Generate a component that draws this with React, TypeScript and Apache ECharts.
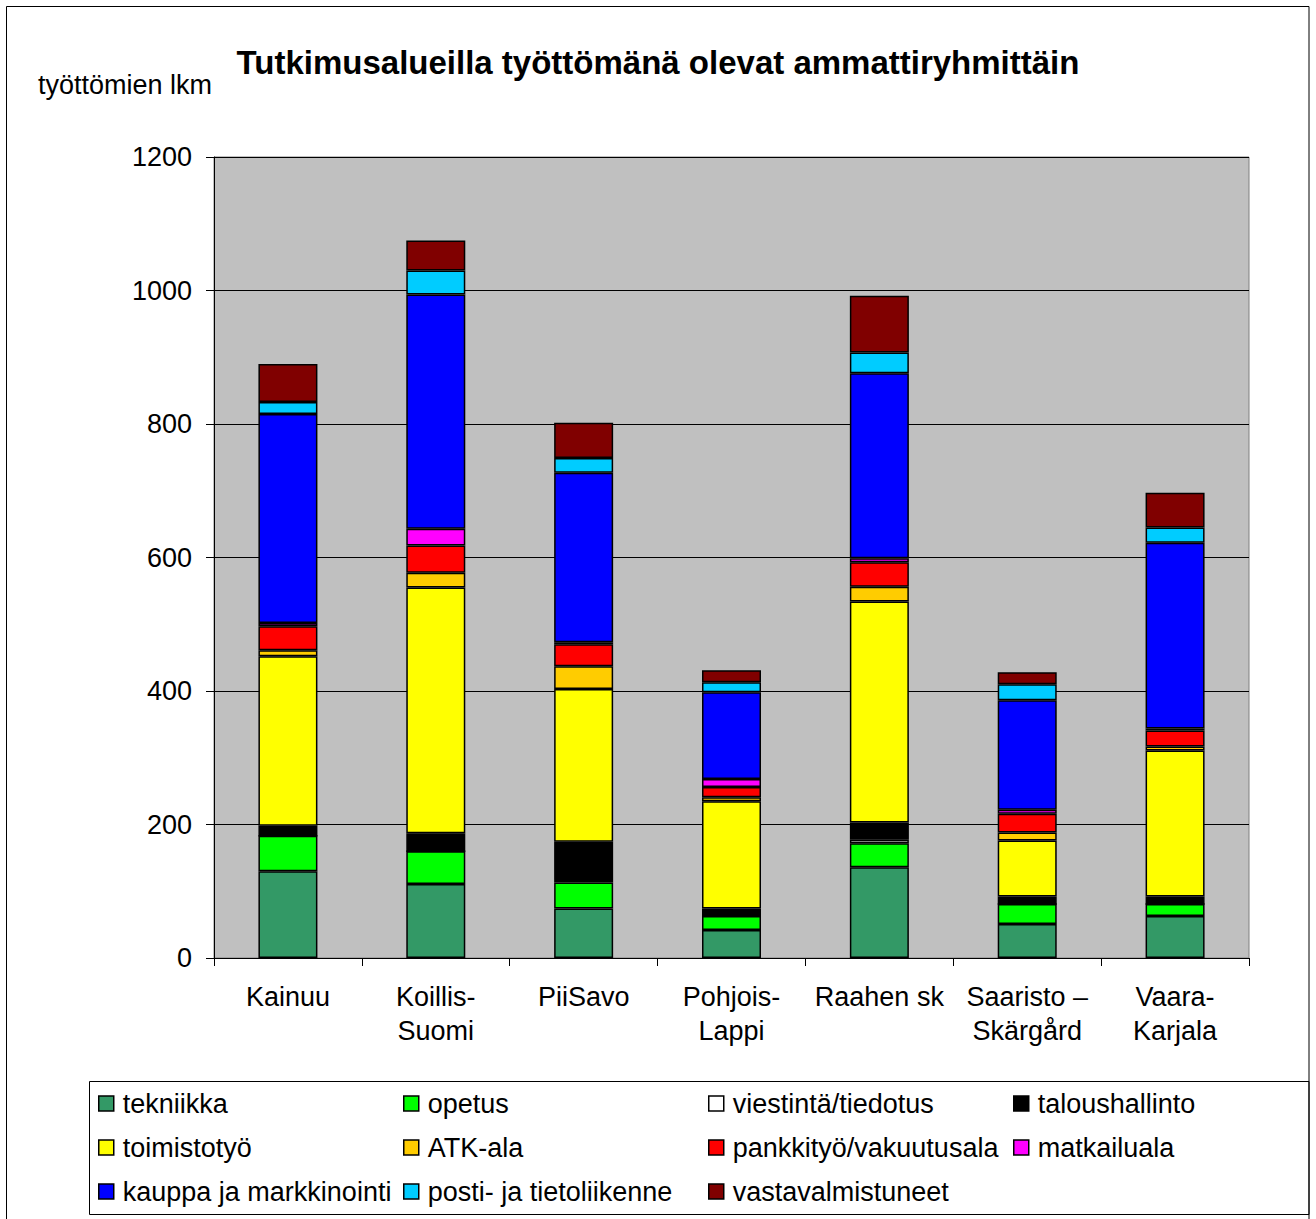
import React, { useEffect, useRef } from "react";
import * as echarts from "echarts";

const categories = ["Kainuu", "Koillis-\nSuomi", "PiiSavo", "Pohjois-\nLappi", "Raahen sk", "Saaristo –\nSkärgård", "Vaara-\nKarjala"];

const tekniikka = [130, 111, 74, 42, 136, 51, 63];
const opetus = [53, 49, 39, 21, 36, 30, 18];
const viestinta = [0, 0, 4, 0, 5, 0, 0];
const talous = [15, 27, 57, 11, 26, 11, 11];
const toimisto = [254, 368, 229, 161, 331, 84, 219];
const atk = [9, 22, 34, 6, 22, 12, 6];
const pankki = [36, 41, 33, 15, 37, 28, 24];
const matkailu = [5, 25, 3, 12, 6, 6, 3];
const kauppa = [313, 351, 254, 130, 277, 164, 278];
const posti = [18, 36, 22, 15, 31, 24, 23];
const vastavalm = [57, 45, 53, 18, 85, 18, 52];

const yTicks = [0, 200, 400, 600, 800, 1000, 1200];

const seriesDefs = [
  { name: "tekniikka", data: tekniikka, color: "#339966" },
  { name: "opetus", data: opetus, color: "#00FF00" },
  { name: "viestintä/tiedotus", data: viestinta, color: "#FFFFFF" },
  { name: "taloushallinto", data: talous, color: "#000000" },
  { name: "toimistotyö", data: toimisto, color: "#FFFF00" },
  { name: "ATK-ala", data: atk, color: "#FFCC00" },
  { name: "pankkityö/vakuutusala", data: pankki, color: "#FF0000" },
  { name: "matkailuala", data: matkailu, color: "#FF00FF" },
  { name: "kauppa ja markkinointi", data: kauppa, color: "#0000FF" },
  { name: "posti- ja tietoliikenne", data: posti, color: "#00CCFF" },
  { name: "vastavalmistuneet", data: vastavalm, color: "#800000" },
];

const FONT = "'Liberation Sans', Arial, sans-serif";

export default function App() {
  const ref = useRef<HTMLDivElement>(null);
  useEffect(() => {
    document.body.style.margin = "0";
    const chart = echarts.init(ref.current!, null, { renderer: "svg" });
    const colX = [98, 403, 708, 1013];
    const rowY = [1090, 1134, 1178];
    const legends = seriesDefs.map((s, i) => ({
      data: [s.name],
      left: colX[i % 4],
      top: rowY[Math.floor(i / 4)],
      padding: 0,
      itemWidth: 15,
      itemHeight: 15,
      itemGap: 0,
      icon: "rect",
      selectedMode: false,
      textStyle: { fontFamily: FONT, fontSize: 27, color: "#000", padding: [0, 0, 0, 4] },
      itemStyle: { borderColor: "#000", borderWidth: 1.5 },
    }));
    chart.setOption({
      animation: false,
      backgroundColor: "#fff",
      title: {
        text: "Tutkimusalueilla työttömänä olevat ammattiryhmittäin",
        left: "center",
        top: 41,
        textStyle: { fontFamily: FONT, fontSize: 33, fontWeight: "bold", color: "#000" },
      },
      graphic: [
        { type: "rect", shape: { x: 6.5, y: 6.5, width: 1302.5, height: 1230 }, style: { fill: "none", stroke: "#000", lineWidth: 1 }, silent: true, z: 100 },
        { type: "rect", shape: { x: 89.5, y: 1081.5, width: 1219.5, height: 133 }, style: { fill: "none", stroke: "#000", lineWidth: 1 }, silent: true, z: 100 },
        { type: "text", left: 38, top: 71, style: { text: "työttömien lkm", fontFamily: FONT, fontSize: 27, fill: "#000" } },
      ],
      legend: legends,
      grid: {
        left: 214,
        right: 67,
        top: 157,
        bottom: 261,
        show: true,
        backgroundColor: "#C0C0C0",
        borderColor: "#808080",
        borderWidth: 1,
      },
      xAxis: {
        type: "category",
        data: categories,
        axisLine: { lineStyle: { color: "#000", width: 1 } },
        axisTick: { show: true, length: 8, lineStyle: { color: "#000" } },
        axisLabel: { fontFamily: FONT, fontSize: 27, color: "#000", margin: 22, lineHeight: 34, interval: 0 },
      },
      yAxis: {
        type: "value",
        min: yTicks[0],
        max: yTicks[yTicks.length - 1],
        interval: 200,
        axisLine: { show: true, lineStyle: { color: "#000", width: 1 } },
        axisTick: { show: true, length: 8, lineStyle: { color: "#000" } },
        axisLabel: { fontFamily: FONT, fontSize: 27, color: "#000", margin: 22, formatter: (v: number) => String(v) },
        splitLine: { show: true, lineStyle: { color: "#000", width: 1 } },
      },
      series: seriesDefs.map((s) => ({
        name: s.name,
        type: "bar",
        stack: "total",
        barWidth: 59,
        data: s.data,
        itemStyle: { color: s.color, borderColor: "#000", borderWidth: 1.5 },
      })),
    });
    return () => chart.dispose();
  }, []);
  return <div ref={ref} style={{ width: 1316, height: 1219 }} />;
}
